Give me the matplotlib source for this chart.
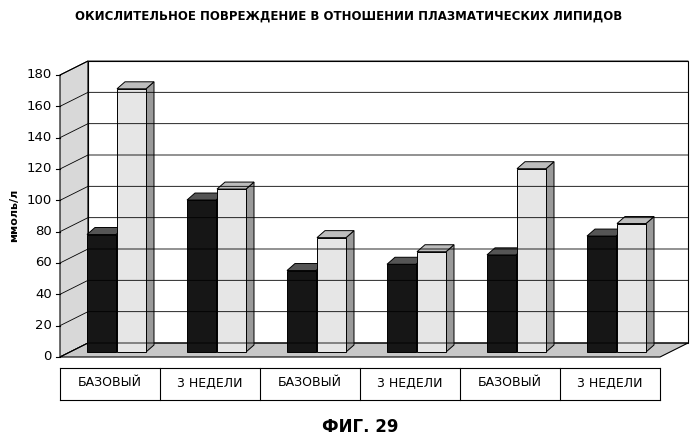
import matplotlib.pyplot as plt
from matplotlib.patches import Polygon, Rectangle

categories = ["БАЗОВЫЙ", "3 НЕДЕЛИ", "БАЗОВЫЙ", "3 НЕДЕЛИ", "БАЗОВЫЙ", "3 НЕДЕЛИ"]
dark_vals = [75, 97, 52, 56, 62, 74]
light_vals = [168, 104, 73, 64, 117, 82]
yticks = [0, 20, 40, 60, 80, 100, 120, 140, 160, 180]

fig = plt.figure(figsize=(6.99, 4.41), dpi=100)
ax = fig.add_axes([0, 0, 1, 1])
ax.set_xlim(0, 699)
ax.set_ylim(441, 0)
ax.axis("off")

x0, x1 = 60, 660          # front floor extent in pixels
y0 = 357                  # value 0 at front
py = (357 - 75) / 180.0   # pixels per unit
wdx, wdy = 28, 14         # wall depth offset
bdx, bdy = 8, 7           # bar depth offset
catw = (x1 - x0) / len(categories)

def vy(v):
    return y0 - v * py

# walls
ax.add_patch(Polygon([(x0, y0), (x0 + wdx, y0 - wdy), (x0 + wdx, vy(180) - wdy), (x0, vy(180))],
                     closed=True, fc="#d8d8d8", ec="black", lw=0.8))
ax.add_patch(Polygon([(x0 + wdx, y0 - wdy), (x1 + wdx, y0 - wdy), (x1 + wdx, vy(180) - wdy), (x0 + wdx, vy(180) - wdy)],
                     closed=True, fc="white", ec="black", lw=0.8))
ax.add_patch(Polygon([(x0, y0), (x1, y0), (x1 + wdx, y0 - wdy), (x0 + wdx, y0 - wdy)],
                     closed=True, fc="#c8c8c8", ec="black", lw=0.8))
for t in yticks:
    ax.plot([x0, x0 + wdx, x1 + wdx], [vy(t), vy(t) - wdy, vy(t) - wdy], color="black", lw=0.6)
    ax.plot([x0 - 4, x0], [vy(t), vy(t)], color="black", lw=0.8)
    ax.text(x0 - 8, vy(t), str(t), ha="right", va="center", fontsize=9.5)

def bar3d(xl, w, v, fc, sc, tc):
    base = y0 - 5
    top = base - v * py
    ax.add_patch(Polygon([(xl + w, base), (xl + w + bdx, base - bdy), (xl + w + bdx, top - bdy), (xl + w, top)],
                         closed=True, fc=sc, ec="black", lw=0.7))
    ax.add_patch(Polygon([(xl, top), (xl + w, top), (xl + w + bdx, top - bdy), (xl + bdx, top - bdy)],
                         closed=True, fc=tc, ec="black", lw=0.7))
    ax.add_patch(Rectangle((xl, top), w, base - top, fc=fc, ec="black", lw=0.7))

for i, (d, l) in enumerate(zip(dark_vals, light_vals)):
    cx = x0 + i * catw
    bar3d(cx + 0.27 * catw, 0.29 * catw, d, "#161616", "#3a3a3a", "#555555")
    bar3d(cx + 0.57 * catw, 0.29 * catw, l, "#e6e6e6", "#9a9a9a", "#bdbdbd")

# category label row
ax.plot([x0, x1], [368, 368], color="black", lw=0.8)
ax.plot([x0, x1], [400, 400], color="black", lw=0.8)
for i, c in enumerate(categories):
    cx = x0 + i * catw
    ax.plot([cx, cx], [368, 400], color="black", lw=0.8)
    ax.text(cx + catw / 2, 383, c, ha="center", va="center", fontsize=9)
ax.plot([x1, x1], [368, 400], color="black", lw=0.8)

ax.text(14, 215, "ммоль/л", rotation=90, ha="center", va="center", fontsize=8, fontweight="bold")
ax.text(349, 16, "ОКИСЛИТЕЛЬНОЕ ПОВРЕЖДЕНИЕ В ОТНОШЕНИИ ПЛАЗМАТИЧЕСКИХ ЛИПИДОВ",
        ha="center", va="center", fontsize=8.5, fontweight="bold")
ax.text(360, 427, "ФИГ. 29", ha="center", va="center", fontsize=12, fontweight="bold")

fig.savefig("out.png", dpi=100)
